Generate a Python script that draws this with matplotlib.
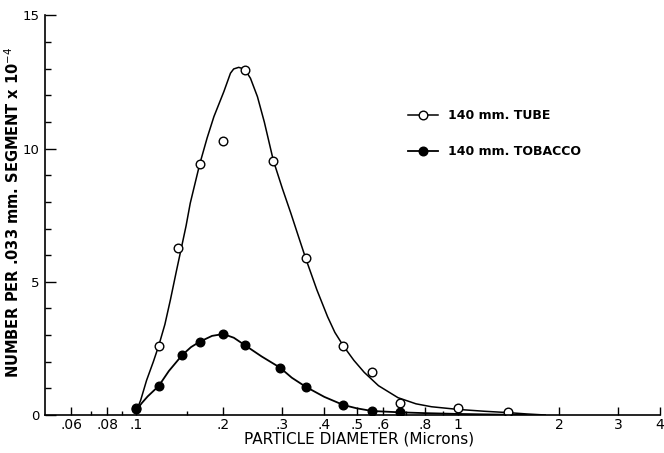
import numpy as np
import matplotlib
matplotlib.use('Agg')
import matplotlib.pyplot as plt
from matplotlib.lines import Line2D
from matplotlib.ticker import FixedLocator, FixedFormatter

# Measured points, particle diameter in microns vs count per segment (x 10^-4)
tube_x = [0.1, 0.12, 0.14, 0.166, 0.2, 0.232, 0.282, 0.352, 0.456, 0.555, 0.673, 1.0, 1.41]
tube_y = [0.26, 2.59, 6.28, 9.42, 10.3, 12.95, 9.55, 5.88, 2.59, 1.63, 0.44, 0.28, 0.1]

tobacco_x = [0.1, 0.12, 0.1445, 0.166, 0.2, 0.232, 0.295, 0.352, 0.456, 0.555, 0.673]
tobacco_y = [0.21, 1.09, 2.25, 2.75, 3.04, 2.62, 1.78, 1.06, 0.375, 0.15, 0.12]

# Hand-drawn fitted curves
tube_curve_x = [0.1, 0.104, 0.109, 0.115, 0.12, 0.126, 0.1316, 0.138, 0.1436, 0.149,
                0.154, 0.16, 0.166, 0.176, 0.1857, 0.2008, 0.2101, 0.2148, 0.2223, 0.2316,
                0.241, 0.2528, 0.265, 0.282, 0.30, 0.318, 0.335, 0.352, 0.38, 0.409,
                0.43, 0.456, 0.49, 0.526, 0.58, 0.663, 0.75, 0.834, 1.0, 1.2,
                1.41, 1.6, 1.82]
tube_curve_y = [0.1, 0.55, 1.3, 2.0, 2.6, 3.4, 4.32, 5.4, 6.28, 7.1,
                7.95, 8.7, 9.42, 10.4, 11.2, 12.14, 12.83, 12.99, 13.05, 12.98,
                12.64, 11.95, 11.0, 9.55, 8.5, 7.57, 6.7, 5.88, 4.7, 3.69,
                3.1, 2.59, 2.05, 1.6, 1.1, 0.65, 0.42, 0.31, 0.21, 0.14,
                0.09, 0.04, 0.0]

tobacco_curve_x = [0.1, 0.105, 0.11, 0.12, 0.13, 0.1445, 0.155, 0.166, 0.183, 0.2,
                   0.215, 0.232, 0.26, 0.295, 0.32, 0.352, 0.4, 0.456, 0.5, 0.555,
                   0.673, 0.8, 1.0, 1.6]
tobacco_curve_y = [0.15, 0.45, 0.7, 1.09, 1.65, 2.25, 2.55, 2.75, 2.97, 3.04,
                   2.9, 2.62, 2.2, 1.78, 1.4, 1.06, 0.68, 0.375, 0.25, 0.15,
                   0.1, 0.07, 0.04, 0.0]

x_ticks = [0.06, 0.08, 0.1, 0.2, 0.3, 0.4, 0.5, 0.6, 0.8, 1, 2, 3, 4]
x_ticklabels = ['.06', '.08', '.1', '.2', '.3', '.4', '.5', '.6', '.8', '1', '2', '3', '4']
x_minor = [0.07, 0.09, 0.15, 0.7, 0.9]
y_ticks = [0, 5, 10, 15]

# the log paper is compressed below 0.2 micron
LOG_BREAK = np.log10(0.2)
LOW_RATIO = 290 / 334.5


def fwd(x):
    u = np.log10(np.clip(x, 1e-6, None))
    return np.where(u < LOG_BREAK, LOG_BREAK + (u - LOG_BREAK) * LOW_RATIO, u)


def inv(v):
    v = np.asarray(v, dtype=float)
    u = np.where(v < LOG_BREAK, LOG_BREAK + (v - LOG_BREAK) / LOW_RATIO, v)
    return 10 ** u


plt.rcParams['font.family'] = ['DejaVu Sans']

fig = plt.figure(figsize=(6.64, 4.53), dpi=100)
ax = fig.add_axes([45 / 664, 1 - 415 / 453, 615 / 664, 399.6 / 453])
ax.set_xscale('function', functions=(fwd, inv))
ax.set_xlim(0.0488, 4)
ax.set_ylim(0, 15)

ax.plot(tube_curve_x, tube_curve_y, color='black', lw=1.1)
ax.plot(tobacco_curve_x, tobacco_curve_y, color='black', lw=1.3)
ax.plot(tube_x, tube_y, 'o', ms=6.2, mfc='white', mec='black', mew=1.0)
ax.plot(tobacco_x, tobacco_y, 'o', ms=6.2, mfc='black', mec='black')

for side in ['top', 'right']:
    ax.spines[side].set_visible(False)
ax.spines['left'].set_linewidth(1.2)
ax.spines['bottom'].set_linewidth(1.2)

ax.xaxis.set_major_locator(FixedLocator(x_ticks))
ax.xaxis.set_major_formatter(FixedFormatter(x_ticklabels))
ax.xaxis.set_minor_locator(FixedLocator(x_minor))
ax.yaxis.set_major_locator(FixedLocator(y_ticks))
ax.yaxis.set_minor_locator(FixedLocator(range(16)))
ax.tick_params(axis='x', which='major', direction='in', length=6, width=1, pad=2, labelsize=10)
ax.tick_params(axis='x', which='minor', direction='in', length=3, width=1)
ax.tick_params(axis='y', which='major', direction='in', length=8, width=1, pad=4, labelsize=9.5)
ax.tick_params(axis='y', which='minor', direction='in', length=4, width=1)

ax.set_xlabel('PARTICLE DIAMETER (Microns)', fontsize=11)
ax.xaxis.set_label_coords(0.51, -0.042)
ax.set_ylabel('NUMBER PER .033 mm. SEGMENT x 10$^{-4}$', fontsize=10.5, fontweight='bold')
ax.yaxis.set_label_coords(-0.038, 0.508)

handles = [
    Line2D([], [], color='black', lw=1.1, marker='o', ms=6.2, mfc='white', mec='black'),
    Line2D([], [], color='black', lw=1.3, marker='o', ms=6.2, mfc='black', mec='black'),
]
ax.legend(handles, ['140 mm. TUBE', '140 mm. TOBACCO'], loc='upper left',
          bbox_to_anchor=(407.7 / 664, 1 - 109 / 453), bbox_transform=fig.transFigure,
          frameon=False, borderpad=0, borderaxespad=0, handlelength=2.4,
          handletextpad=0.8, labelspacing=1.85, prop={'size': 9, 'weight': 'bold'})

fig.savefig('out.png', dpi=100)
